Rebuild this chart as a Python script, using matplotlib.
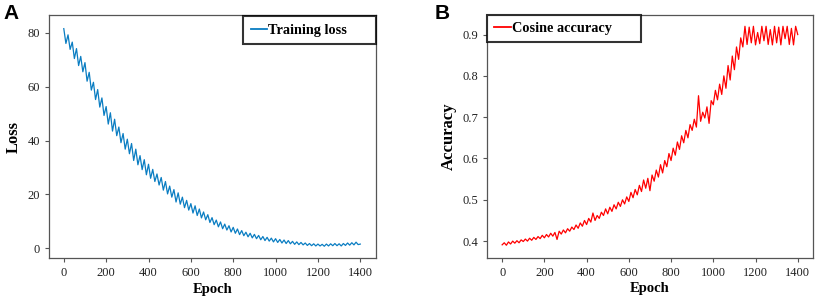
import matplotlib.pyplot as plt
import numpy as np

epochs = list(range(0, 1401, 10))

loss = [
    81.5, 76.0, 79.2, 73.8, 76.5, 70.4, 74.1, 67.8, 71.2, 65.5,
    68.9, 62.0, 65.3, 58.7, 61.6, 55.2, 58.9, 52.4, 55.8, 49.3,
    52.6, 46.1, 50.3, 43.5, 47.9, 41.8, 45.0, 39.2, 42.6, 36.8,
    40.5, 35.1, 38.9, 32.6, 36.8, 31.0, 34.4, 29.2, 32.9, 27.3,
    31.2, 26.0, 29.3, 24.8, 27.6, 23.5, 26.3, 21.6, 24.8, 20.2,
    23.1, 19.0, 21.8, 17.2, 20.6, 16.4, 19.0, 15.1, 17.8, 14.2,
    16.6, 13.1, 15.8, 12.2, 14.6, 11.3, 13.5, 10.6, 12.5, 9.6,
    11.4, 8.8, 10.5, 8.0, 9.8, 7.3, 9.0, 6.8, 8.4, 6.1,
    7.8, 5.6, 7.2, 5.1, 6.6, 4.7, 6.0, 4.3, 5.6, 3.9,
    5.2, 3.6, 4.8, 3.2, 4.4, 2.9, 4.1, 2.7, 3.8, 2.4,
    3.6, 2.2, 3.3, 2.0, 3.1, 1.8, 2.9, 1.7, 2.6, 1.5,
    2.4, 1.4, 2.2, 1.3, 2.0, 1.1, 1.8, 1.0, 1.7, 0.9,
    1.6, 0.9, 1.5, 0.8, 1.6, 0.9, 1.7, 1.0, 1.8, 1.0,
    1.7, 0.9, 1.8, 1.1, 2.0, 1.2, 2.1, 1.3, 2.3, 1.4,
    1.6,
]

accuracy = [
    0.391, 0.396, 0.390, 0.398, 0.393, 0.400, 0.395, 0.401, 0.396, 0.403,
    0.399, 0.405, 0.400, 0.407, 0.402, 0.409, 0.404, 0.411, 0.406, 0.414,
    0.408, 0.416, 0.410, 0.419, 0.412, 0.421, 0.404, 0.424, 0.417, 0.427,
    0.420, 0.430, 0.424, 0.434, 0.428, 0.439, 0.431, 0.444, 0.436, 0.450,
    0.440, 0.455, 0.446, 0.468, 0.450, 0.462, 0.455, 0.470, 0.462, 0.478,
    0.466, 0.482, 0.472, 0.488, 0.478, 0.494, 0.484, 0.500, 0.490, 0.507,
    0.496, 0.518, 0.505, 0.525, 0.512, 0.535, 0.520, 0.548, 0.528, 0.552,
    0.522, 0.560, 0.545, 0.572, 0.555, 0.585, 0.565, 0.595, 0.580, 0.612,
    0.595, 0.625, 0.608, 0.640, 0.622, 0.655, 0.638, 0.668, 0.650, 0.682,
    0.668, 0.695, 0.676, 0.752, 0.690, 0.712, 0.698, 0.725, 0.685, 0.740,
    0.730, 0.765, 0.742, 0.780, 0.755, 0.800, 0.770, 0.825, 0.790, 0.848,
    0.815, 0.870, 0.840, 0.892, 0.870,
    0.920, 0.876, 0.918, 0.880, 0.920, 0.875, 0.905, 0.878, 0.920, 0.885,
    0.920, 0.876, 0.912, 0.875, 0.920, 0.880, 0.918, 0.875, 0.920, 0.890,
    0.920, 0.876, 0.915, 0.875, 0.920, 0.900,
]

xticks = [0, 200, 400, 600, 800, 1000, 1200, 1400]

plt.rcParams['font.family'] = ['Liberation Serif', 'DejaVu Serif']

fig = plt.figure(figsize=(8.16, 2.97), dpi=100)
ax1 = fig.add_axes([0.060, 0.131, 0.401, 0.818])
ax2 = fig.add_axes([0.597, 0.132, 0.399, 0.817])


def style(ax):
    for s in ax.spines.values():
        s.set_color('#555555')
        s.set_linewidth(0.9)
    ax.tick_params(colors='#555555', labelcolor='#222222', labelsize=9,
                   length=3, width=0.8)
    ax.set_xticks(xticks)
    ax.set_xlabel('Epoch', fontsize=10.5, fontweight='bold', labelpad=2.5)


def boxed_legend(ax, loc, anchor):
    leg = ax.legend(loc=loc, bbox_to_anchor=anchor, borderaxespad=0,
                    fancybox=False, handlelength=1.15, handletextpad=0.1,
                    borderpad=0.5, prop={'weight': 'bold', 'size': 10.3})
    leg.get_frame().set_edgecolor('black')
    leg.get_frame().set_linewidth(1.5)
    for ln in leg.get_lines():
        ln.set_linewidth(1.3)
    return leg


ax1.plot(epochs, loss, color='#0a7dc2', lw=0.9, label='Training loss      ')
ax1.set_xlim(-70, 1475)
ax1.set_ylim(-3.6, 86.5)
ax1.set_yticks([0, 20, 40, 60, 80])
style(ax1)
ax1.set_ylabel('Loss', fontsize=12, fontweight='bold', labelpad=4)
boxed_legend(ax1, 'upper right', (1.0, 0.995))

ax2.plot(epochs, accuracy, color='#ff0000', lw=0.9, label='Cosine accuracy      ')
ax2.set_xlim(-71, 1471)
ax2.set_ylim(0.3596, 0.947)
ax2.set_yticks([0.4, 0.5, 0.6, 0.7, 0.8, 0.9])
style(ax2)
ax2.set_ylabel('Accuracy', fontsize=12, fontweight='bold', labelpad=4)
boxed_legend(ax2, 'upper left', (0.0, 1.0))

fig.text(0.004, 0.985, 'A', fontsize=15, fontweight='bold', va='top',
         family=['Liberation Sans', 'DejaVu Sans'])
fig.text(0.533, 0.985, 'B', fontsize=15, fontweight='bold', va='top',
         family=['Liberation Sans', 'DejaVu Sans'])

fig.savefig('out.png', dpi=100)
